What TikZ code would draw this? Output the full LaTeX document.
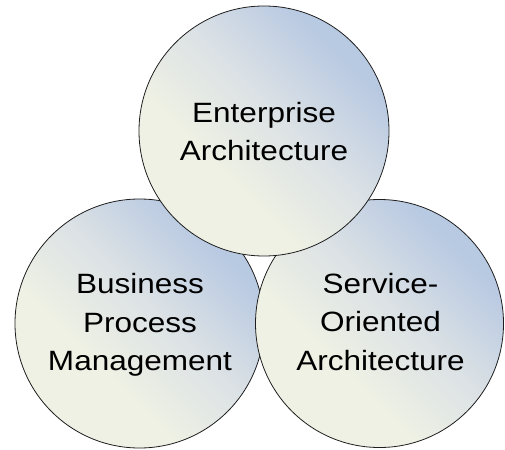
\documentclass[tikz,border=0pt]{standalone}
\usepackage{fontspec}
\newfontfamily\eafont[FakeStretch=1.13]{Liberation Sans}
\definecolor{rim}{HTML}{1E1E1E}
\pgfdeclareverticalshading{eashade}{100bp}{rgb(0bp)=(0.937,0.945,0.894); rgb(38bp)=(0.937,0.945,0.894); rgb(54bp)=(0.863,0.886,0.898); rgb(72bp)=(0.722,0.788,0.886); rgb(100bp)=(0.722,0.788,0.886)}
\begin{document}
\begin{tikzpicture}[x=1pt,y=-1pt,
  ball/.style={circle, draw=rim, line width=0.8pt, shading=eashade, shading angle=-45, inner sep=0pt},
  label/.style={align=center, inner sep=0pt, text=black, font=\eafont\fontsize{27.9}{38.5}\selectfont}]
\useasboundingbox (0,0) rectangle (505,449);
\node[ball, minimum size=249pt] (bpm) at (139.5,323.5) {};
\node[ball, minimum size=248pt] (soa) at (379.5,323.5) {};
\node[ball, minimum size=250pt] (ea) at (264,131) {};
\node[label] (eat) at (264,131.5) {Enterprise\\Architecture};
\node[label] (bpmt) at (140,325) {Business\\Process\\Management};
\node[label] (soat) at (380.5,322) {Service-\\Oriented\\Architecture};
\end{tikzpicture}
\end{document}
